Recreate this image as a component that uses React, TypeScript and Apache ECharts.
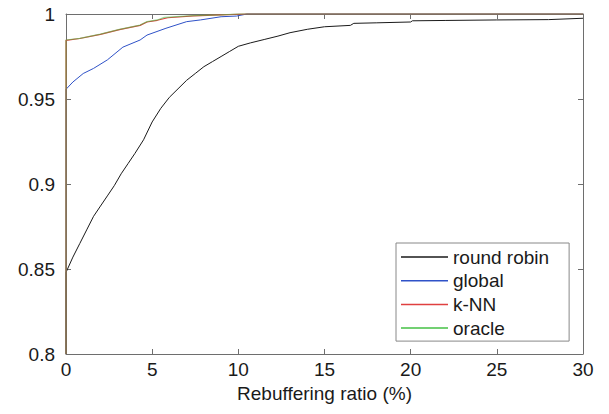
import React, { useEffect, useRef } from "react";
import * as echarts from "echarts";

const seriesNames = ["round robin", "global", "k-NN", "oracle"];

const roundRobinX = [0, 0, 0.4, 0.8, 1.2, 1.6, 2.0, 2.4, 2.8, 3.2, 3.6, 4.0, 4.5, 5.0, 5.5, 6.0, 6.5, 7.0, 7.5, 8.0, 8.5, 9.0, 9.5, 10.0, 10.7, 11.5, 12.3, 13.0, 14.0, 15.0, 16.5, 16.7, 18.0, 20.0, 20.1, 22, 25, 28, 30];
const roundRobinY = [0.8, 0.848, 0.857, 0.865, 0.873, 0.881, 0.887, 0.893, 0.899, 0.906, 0.912, 0.918, 0.926, 0.9365, 0.9445, 0.951, 0.956, 0.961, 0.965, 0.969, 0.972, 0.975, 0.978, 0.981, 0.983, 0.985, 0.987, 0.989, 0.991, 0.9925, 0.9933, 0.9945, 0.9948, 0.9953, 0.996, 0.9962, 0.9965, 0.9967, 0.9975];

const globalX = [0, 0, 0.4, 1.0, 1.6, 2.4, 3.3, 4.3, 4.7, 5.8, 7.0, 7.8, 9.0, 9.9, 10.5, 30];
const globalY = [0.8, 0.9557, 0.96, 0.965, 0.968, 0.973, 0.9805, 0.9847, 0.9876, 0.9916, 0.9955, 0.9965, 0.9984, 0.9988, 1.0, 1.0];

const knnX = [0, 0, 0.8, 2.0, 3.1, 4.3, 4.7, 5.3, 5.9, 7.4, 9.0, 10.5, 30];
const knnY = [0.8, 0.9845, 0.9856, 0.988, 0.9908, 0.9933, 0.9953, 0.9963, 0.9978, 0.9989, 0.9995, 1, 1];

const oracleX = [0, 0, 0.8, 2.0, 3.1, 4.3, 4.7, 5.3, 5.7, 7.4, 9.0, 10, 30];
const oracleY = [0.8, 0.9847, 0.9857, 0.9882, 0.991, 0.9935, 0.9955, 0.9965, 0.998, 0.999, 0.9995, 1, 1];

const xTicks = [0, 5, 10, 15, 20, 25, 30];
const yTicks = [0.8, 0.85, 0.9, 0.95, 1];

const zip = (xs: number[], ys: number[]) => xs.map((x, i) => [x, ys[i]]);

const FONT = "'Liberation Sans', Arial, Helvetica, sans-serif";
const AXIS_COLOR = "#6e6e6e";
const FS = 19;

export default function App() {
  const ref = useRef<HTMLDivElement>(null);
  useEffect(() => {
    if (!ref.current) return;
    const chart = echarts.init(ref.current, null, { renderer: "svg" });
    const axisCommon = {
      axisLine: { show: true, onZero: false, lineStyle: { color: AXIS_COLOR, width: 1 } },
      axisTick: { show: true, inside: true, length: 5, lineStyle: { color: AXIS_COLOR } },
      splitLine: { show: false },
    };
    chart.setOption({
      animation: false,
      backgroundColor: "#fff",
      grid: { left: 66, right: 26, top: 14, bottom: 60, containLabel: false },
      xAxis: [
        {
          type: "value",
          min: xTicks[0],
          max: xTicks[xTicks.length - 1],
          interval: 5,
          position: "bottom",
          name: "Rebuffering ratio (%)",
          nameLocation: "middle",
          nameGap: 28,
          nameTextStyle: { fontFamily: FONT, fontSize: FS, color: "#1a1a1a" },
          axisLabel: { fontFamily: FONT, fontSize: FS, color: "#1a1a1a", margin: 6 },
          ...axisCommon,
        },
        {
          type: "value",
          min: xTicks[0],
          max: xTicks[xTicks.length - 1],
          interval: 5,
          position: "top",
          axisLabel: { show: false },
          ...axisCommon,
        },
      ],
      yAxis: [
        {
          type: "value",
          min: yTicks[0],
          max: yTicks[yTicks.length - 1],
          interval: 0.05,
          position: "left",
          axisLabel: {
            fontFamily: FONT,
            fontSize: FS,
            color: "#1a1a1a",
            margin: 11,
            formatter: (v: number) => String(Math.round(v * 100) / 100),
          },
          ...axisCommon,
        },
        {
          type: "value",
          min: yTicks[0],
          max: yTicks[yTicks.length - 1],
          interval: 0.05,
          position: "right",
          axisLabel: { show: false },
          ...axisCommon,
        },
      ],
      legend: {
        orient: "vertical",
        left: 396,
        top: 243,
        data: seriesNames,
        icon: "rect",
        itemWidth: 47,
        itemHeight: 1.5,
        itemGap: 3.7,
        padding: [4, 20, 3, 5],
        backgroundColor: "#fff",
        borderColor: "#888",
        borderWidth: 1,
        borderRadius: 0,
        textStyle: { fontFamily: FONT, fontSize: FS, color: "#1a1a1a", lineHeight: 20 },
      },
      series: [
        {
          name: seriesNames[0],
          type: "line",
          data: zip(roundRobinX, roundRobinY),
          showSymbol: false,
          symbol: "none",
          clip: false,
          color: "#1a1a1a",
          lineStyle: { color: "#1a1a1a", width: 1 },
          z: 2,
        },
        {
          name: seriesNames[1],
          type: "line",
          data: zip(globalX, globalY),
          showSymbol: false,
          symbol: "none",
          clip: false,
          color: "#2f52c8",
          lineStyle: { color: "#2f52c8", width: 1 },
          z: 3,
        },
        {
          name: seriesNames[2],
          type: "line",
          data: zip(knnX, knnY),
          showSymbol: false,
          symbol: "none",
          clip: false,
          color: "#e04040",
          lineStyle: { color: "#e04040", width: 1.2 },
          z: 4,
        },
        {
          name: seriesNames[3],
          type: "line",
          data: zip(oracleX, oracleY),
          showSymbol: false,
          symbol: "none",
          clip: false,
          color: "#44c044",
          lineStyle: { color: "#44c044", width: 1.2, opacity: 0.55 },
          z: 5,
        },
      ],
    });
    return () => chart.dispose();
  }, []);
  return <div ref={ref} style={{ width: 609, height: 414, position: "absolute", left: 0, top: 0 }} />;
}
